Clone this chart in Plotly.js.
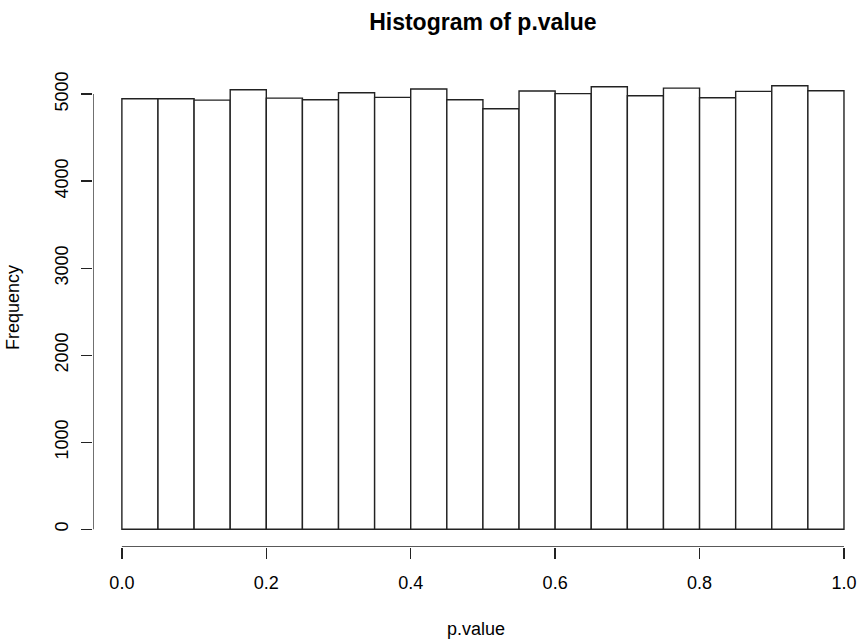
<!DOCTYPE html>
<html>
<head>
<meta charset="utf-8">
<script src="https://cdn.plot.ly/plotly-3.0.1.min.js"></script>
<style>html,body{margin:0;padding:0;background:#fff;}#chart{width:859px;height:640px;}</style>
</head>
<body>
<div id="chart"></div>
<script>
var binStarts = [0.00,0.05,0.10,0.15,0.20,0.25,0.30,0.35,0.40,0.45,0.50,0.55,0.60,0.65,0.70,0.75,0.80,0.85,0.90,0.95];
var counts = [4947,4946,4931,5050,4954,4935,5016,4962,5058,4935,4832,5035,5005,5085,4981,5069,4958,5031,5096,5039];
var binWidth = 0.05;
var xTicks = [0, 0.2, 0.4, 0.6, 0.8, 1.0];
var xTickText = ["0.0","0.2","0.4","0.6","0.8","1.0"];
var yTicks = [0,1000,2000,3000,4000,5000];
var yTickText = ["0","1000","2000","3000","4000","5000"];

var FONT = '"Liberation Sans", Arial, sans-serif';
var yRange = [-204, 5300];
var xRange = [-0.04, 1.0208];

var trace = {
  type: 'bar',
  x: binStarts,
  y: counts,
  width: binWidth,
  offset: 0,
  marker: {color: '#ffffff', line: {color: '#222222', width: 1.4}},
  hoverinfo: 'skip'
};

var layout = {
  width: 859, height: 640,
  margin: {l: 93, r: 0, t: 68, b: 93, pad: 0},
  paper_bgcolor: '#ffffff', plot_bgcolor: '#ffffff',
  showlegend: false,
  font: {family: FONT, size: 18, color: '#000'},
  title: {text: '<b>Histogram of p.value</b>', font: {family: FONT, size: 23, color: '#000'},
          x: 0.509, xref: 'paper', xanchor: 'center', y: 0.965, yanchor: 'middle'},
  xaxis: {
    range: xRange, showgrid: false, zeroline: false, showline: false,
    tickmode: 'array', tickvals: xTicks, ticktext: xTickText,
    ticks: 'outside', ticklen: 11, tickwidth: 1.3, tickcolor: '#222',
    ticklabelstandoff: 8,
    tickfont: {family: FONT, size: 18, color: '#000'},
    title: {text: 'p.value', font: {family: FONT, size: 18, color: '#000'}, standoff: 30}
  },
  yaxis: {
    range: yRange, showgrid: false, zeroline: false, showline: false,
    tickmode: 'array', tickvals: yTicks, ticktext: yTickText,
    ticks: 'outside', ticklen: 11, tickwidth: 1.3, tickcolor: '#222',
    tickangle: -90, ticklabelstandoff: 6,
    tickfont: {family: FONT, size: 18, color: '#000'},
    title: {text: 'Frequency', font: {family: FONT, size: 18, color: '#000'}, standoff: 27}
  },
  shapes: [
    {type: 'line', xref: 'x', yref: 'y', x0: xTicks[0], x1: xTicks[xTicks.length-1], y0: yRange[0], y1: yRange[0],
     line: {color: '#222', width: 1.3}},
    {type: 'line', xref: 'x', yref: 'y', x0: xRange[0], x1: xRange[0], y0: yTicks[0], y1: yTicks[yTicks.length-1],
     line: {color: '#222', width: 1.3}}
  ]
};

Plotly.newPlot('chart', [trace], layout, {staticPlot: true, displayModeBar: false});
</script>
</body>
</html>
